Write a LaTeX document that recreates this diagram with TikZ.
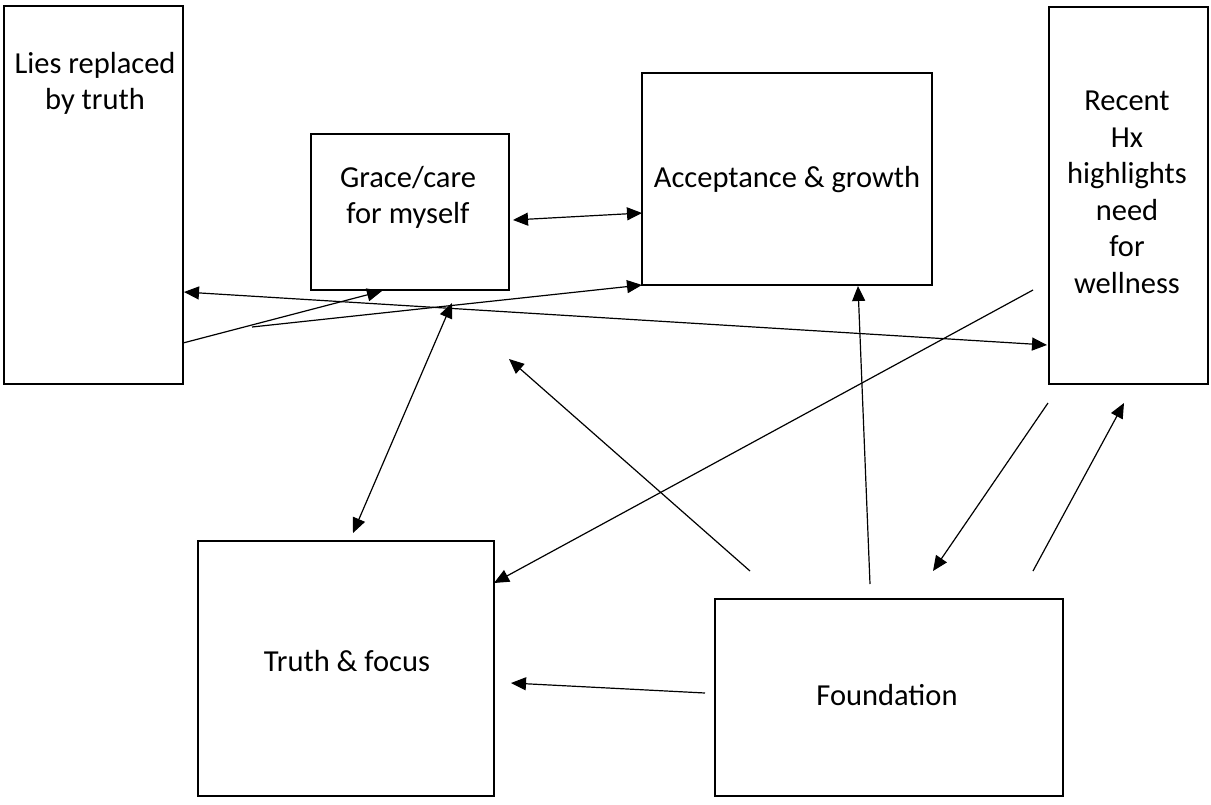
\documentclass[tikz,border=0pt]{standalone}
\usepackage{fontspec}
\setmainfont{Carlito}
\usetikzlibrary{arrows.meta,calc}
\begin{document}
\begin{tikzpicture}[x=1pt,y=-1pt,
  box/.style={draw=black, line width=2.4pt, rectangle, inner sep=0pt, outer sep=0pt},
  lbl/.style={font=\fontsize{30.5}{36.5}\selectfont, align=center, inner sep=0pt},
  link/.style={line width=1.2pt, -{Triangle[length=15pt,width=13pt]}},
  both/.style={line width=1.2pt, {Triangle[length=15pt,width=13pt]}-{Triangle[length=15pt,width=13pt]}}]
\useasboundingbox (0,0) rectangle (1211,804);

% boxes
\node[box, minimum width=179pt, minimum height=378pt] (lies)   at (93.5,195)   {};
\node[box, minimum width=198pt, minimum height=156pt] (grace)  at (410,212)    {};
\node[box, minimum width=290pt, minimum height=212pt] (accept) at (787,179)    {};
\node[box, minimum width=159pt, minimum height=377pt] (recent) at (1128.5,195.5) {};
\node[box, minimum width=296pt, minimum height=255pt] (truth)  at (346,668.5)  {};
\node[box, minimum width=348pt, minimum height=197pt] (found)  at (889,697.5)  {};

% texts
\node[lbl, anchor=north] (liesT)   at (95,52)    {Lies replaced\\by truth};
\node[lbl, anchor=north] (graceT)  at (408,166)  {Grace/care\\for myself};
\node[lbl, anchor=base]  (acceptT) at (787,187)  {Acceptance \& growth};
\node[lbl, anchor=north] (recentT) at (1127,91)  {Recent\\Hx\\highlights\\need\\for\\wellness};
\node[lbl, anchor=base]  (truthT)  at (347,671)  {Truth \& focus};
\node[lbl, anchor=base]  (foundT)  at (887,705)  {Foundation};

% free ends
\coordinate (c4) at (252,327);
\coordinate (x1) at (452,303);
\coordinate (c7) at (509,359);

% connectors
\draw[both] ([xshift=4pt,yshift=-8pt]grace.east) -- ([yshift=-34pt]accept.west);
\draw[both] ([xshift=1pt,yshift=-97pt]lies.east) -- ([xshift=-2pt,yshift=-149.5pt]recent.west);
\draw[link] ([yshift=-148pt]lies.east) -- ([xshift=-28pt,yshift=-1pt]grace.south);
\draw[link] (c4) -- (accept.south west);
\draw[both] (x1) -- ([xshift=7pt,yshift=8pt]truth.north);
\draw[link] ([xshift=-16pt,yshift=-94.5pt]recent.west) -- ([yshift=85.5pt]truth.east);
\draw[link] ([xshift=35pt,yshift=28pt]found.north west) -- (c7);
\draw[link] ([xshift=-19pt,yshift=15pt]found.north) -- ([xshift=71pt,yshift=-1pt]accept.south);
\draw[link] ([xshift=-1pt,yshift=-19pt]recent.south west) -- ([xshift=44pt,yshift=28pt]found.north);
\draw[link] ([xshift=144pt,yshift=28pt]found.north) -- ([xshift=-4.5pt,yshift=-19pt]recent.south);
\draw[link] ([xshift=-10pt,yshift=4.5pt]found.west) -- ([xshift=17pt,yshift=-14.5pt]truth.east);
\end{tikzpicture}
\end{document}
